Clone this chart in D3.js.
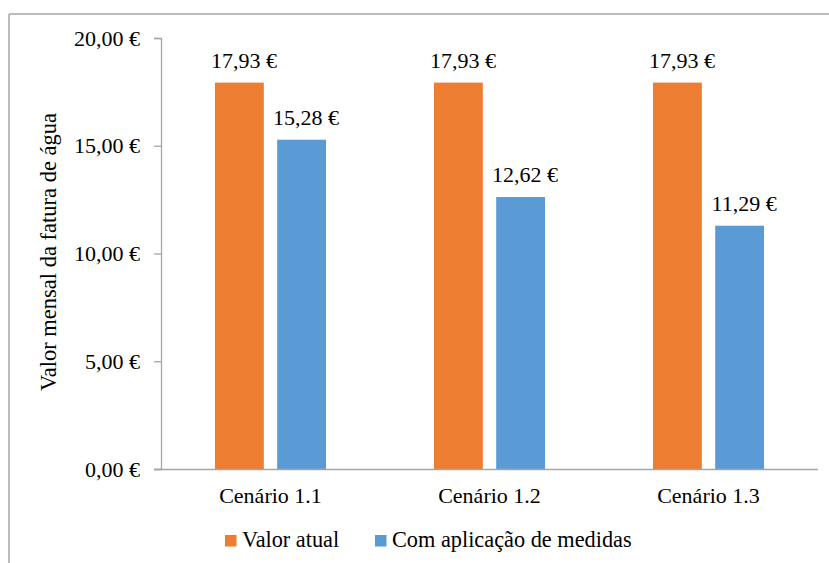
<!DOCTYPE html>
<html>
<head>
<meta charset="utf-8">
<script src="https://cdn.jsdelivr.net/npm/d3@7"></script>
<style>
  html, body { margin: 0; padding: 0; background: #fff; }
  svg { display: block; }
  svg text { font-family: 'Liberation Serif', 'Times New Roman', Times, serif !important; }
</style>
</head>
<body>
<svg id="chart" width="829" height="563"></svg>
<script>
// Monthly water bill per scenario
const categories = ["Cenário 1.1", "Cenário 1.2", "Cenário 1.3"];
const seriesNames = ["Valor atual", "Com aplicação de medidas"];
const valorAtual = [17.93, 17.93, 17.93];
const comMedidas = [15.28, 12.62, 11.29];
const yTicks = [0, 5, 10, 15, 20];
const colors = ["#ED7D31", "#5B9BD5"];

const FONT = "'Liberation Serif', 'Times New Roman', Times, serif";
const FS = "22px";
const fmt = v => v.toFixed(2).replace(".", ",") + " €";

const svg = d3.select("#chart");
const W = 829, H = 563;
const plot = { left: 161, right: 818, top: 38, bottom: 469 };

// outer frame (top and left edges visible)
svg.append("line").attr("x1", 9).attr("x2", W).attr("y1", 14).attr("y2", 14)
  .attr("stroke", "#A6A6A6").attr("stroke-width", 1.5);
svg.append("line").attr("x1", 9).attr("x2", 9).attr("y1", 14).attr("y2", H)
  .attr("stroke", "#A6A6A6").attr("stroke-width", 1.5);

const y = d3.scaleLinear().domain([0, 20]).range([plot.bottom, plot.top]);
const x0 = d3.scaleBand().domain(categories).range([plot.left, plot.right]).padding(0);
const groupW = x0.step() * 0.507;
const x1 = d3.scaleBand().domain(seriesNames).range([0, groupW]).paddingInner(0.215).paddingOuter(0);

const rows = categories.map((c, i) => ({ cat: c, vals: [valorAtual[i], comMedidas[i]] }));

// bars
const groups = svg.append("g").selectAll("g").data(rows).join("g")
  .attr("transform", d => `translate(${x0(d.cat) + (x0.bandwidth() - groupW) / 2},0)`);

groups.selectAll("rect").data(d => d.vals.map((v, k) => ({ v, k })))
  .join("rect")
  .attr("x", d => x1(seriesNames[d.k]))
  .attr("width", x1.bandwidth())
  .attr("y", d => y(d.v))
  .attr("height", d => y(0) - y(d.v))
  .attr("fill", d => colors[d.k]);

groups.selectAll("text").data(d => d.vals.map((v, k) => ({ v, k })))
  .join("text")
  .attr("x", d => x1(seriesNames[d.k]) + x1.bandwidth() / 2 + 4.5)
  .attr("y", d => y(d.v) - 15)
  .attr("text-anchor", "middle")
  .style("font-family", FONT)
  .style("font-size", FS)
  .attr("fill", "#000")
  .text(d => fmt(d.v));

// y axis
const yAxis = svg.append("g").attr("transform", `translate(${plot.left},0)`)
  .call(d3.axisLeft(y).tickValues(yTicks).tickFormat(fmt).tickSizeOuter(0).tickSize(7).tickPadding(14));
yAxis.select(".domain").attr("stroke", "#A6A6A6").attr("stroke-width", 1.3);
yAxis.selectAll(".tick line").attr("stroke", "#A6A6A6").attr("stroke-width", 1.3);
yAxis.selectAll(".tick text").style("font-size", FS).attr("fill", "#000").style("font-family", FONT);

// x axis baseline
const xAxis = svg.append("g").attr("transform", `translate(0,${plot.bottom})`)
  .call(d3.axisBottom(x0).tickSize(0).tickPadding(18).tickSizeOuter(0));
xAxis.select(".domain").attr("stroke", "#A6A6A6").attr("stroke-width", 1.3)
  .attr("d", `M${plot.left - 7},0.5H${plot.right}`);
xAxis.selectAll(".tick text").style("font-size", FS).attr("fill", "#000").style("font-family", FONT);

// y title
svg.append("text")
  .attr("transform", `translate(56,252) rotate(-90)`)
  .attr("text-anchor", "middle")
  .style("font-family", FONT)
  .style("font-size", "22.5px")
  .attr("fill", "#000")
  .text("Valor mensal da fatura de água");

// legend
const legendItems = [
  { name: seriesNames[0], color: colors[0], x: 225 },
  { name: seriesNames[1], color: colors[1], x: 375 }
];
const lg = svg.append("g").selectAll("g").data(legendItems).join("g")
  .attr("transform", d => `translate(${d.x},0)`);
lg.append("rect").attr("x", 0).attr("y", 535).attr("width", 11.5).attr("height", 11.5)
  .attr("fill", d => d.color);
lg.append("text").attr("x", 17).attr("y", 546.5)
  .style("font-family", FONT).style("font-size", "22.3px").attr("fill", "#000")
  .text(d => d.name);
</script>
</body>
</html>
